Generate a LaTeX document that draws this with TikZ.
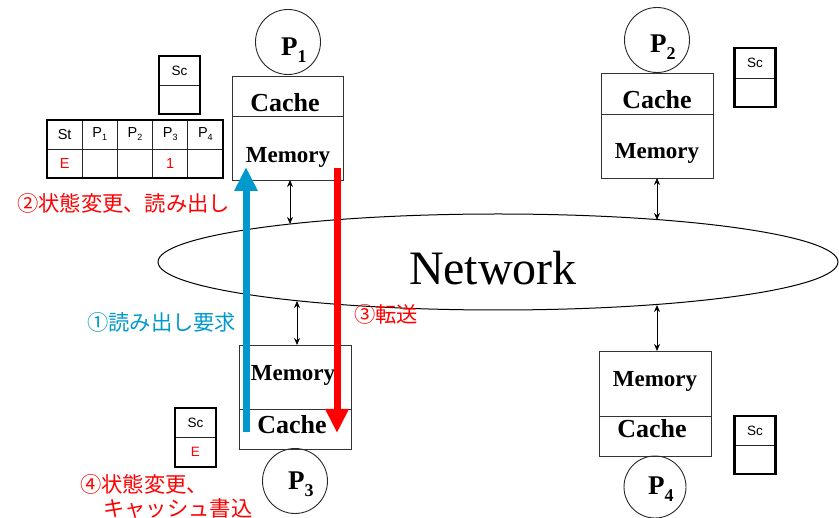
\documentclass[tikz,border=0pt]{standalone}
\usepackage{fontspec}
\setmainfont{Liberation Serif}
\newfontfamily\sansf{Liberation Sans}
\newfontfamily\jpf{Noto Sans CJK JP}
\usetikzlibrary{arrows.meta,shapes.geometric,calc}
\definecolor{stepred}{RGB}{255,0,0}
\definecolor{stepblue}{RGB}{0,153,204}
\newcommand\plabel[1]{\bfseries\fontsize{27}{27}\selectfont P\raisebox{-7pt}{\fontsize{18}{18}\selectfont #1}}
\newcommand\tplabel[1]{P\raisebox{-3pt}{\fontsize{9}{9}\selectfont #1}}
\begin{document}
\begin{tikzpicture}[x=1pt,y=-1pt,
  unitbox/.style={draw=black!80,line width=0.9pt,rectangle,inner sep=0pt,outer sep=0pt},
  proc/.style={draw=black!85,line width=0.9pt,circle,minimum size=65pt,inner sep=0pt},
  cachetxt/.style={anchor=base,inner sep=0pt,font=\bfseries\fontsize{26}{26}\selectfont},
  memtxt/.style={anchor=base,inner sep=0pt,font=\bfseries\fontsize{23}{23}\selectfont},
  sccell/.style={rectangle,inner sep=0pt,outer sep=0pt,minimum width=41pt,font=\sansf\fontsize{13.5}{13.5}\selectfont},
  scframe/.style={draw=black,line width=2.6pt},
  cell/.style={draw=black!85,line width=0.8pt,rectangle,inner sep=0pt,outer sep=0pt,
    minimum width=35.2pt,minimum height=29pt,font=\sansf\fontsize{14.5}{14.5}\selectfont},
  link/.style={draw=black,line width=0.8pt,{Stealth[length=7pt,width=6pt]}-{Stealth[length=7pt,width=6pt]}},
  note/.style={anchor=west,inner sep=0pt,font=\jpf\fontsize{21.3}{21.3}\selectfont},
  bigarrow/.style={line width=7pt,-{Triangle[width=22pt,length=24pt]}}
]
\useasboundingbox (0,0) rectangle (839,518);

% network ring
\node[draw=black,line width=1pt,ellipse,minimum width=680pt,minimum height=96pt,inner sep=0pt] (net) at (498,262) {};
\node[anchor=base,inner sep=0pt,font=\fontsize{48}{48}\selectfont] (nettxt) at (493,285) {Network};

% processor 1 (cache above memory)
\node[unitbox,minimum width=111pt,minimum height=40pt] (c1) at (287.5,96) {};
\node[unitbox,minimum width=111pt,minimum height=64pt] (m1) at (287.5,148) {};
\node[cachetxt] (c1t) at (285,112) {Cache};
\node[memtxt] (m1t) at (288,163) {Memory};
\node[proc] (p1) at (288,42) {};
\node[anchor=base west,inner sep=0pt] (p1t) at (281,56) {\plabel{1}};

% processor 2
\node[unitbox,minimum width=112pt,minimum height=41pt] (c2) at (657,93.5) {};
\node[unitbox,minimum width=112pt,minimum height=64pt] (m2) at (657,146) {};
\node[cachetxt] (c2t) at (657,109) {Cache};
\node[memtxt] (m2t) at (657,159) {Memory};
\node[proc] (p2) at (657,40) {};
\node[anchor=base west,inner sep=0pt] (p2t) at (650,53) {\plabel{2}};

% processor 3 (memory above cache)
\node[unitbox,minimum width=112pt,minimum height=64pt] (m3) at (295,377) {};
\node[unitbox,minimum width=112pt,minimum height=40pt] (c3) at (295,429) {};
\node[memtxt] (m3t) at (293,381) {Memory};
\node[cachetxt] (c3t) at (292,434) {Cache};
\node[proc] (p3) at (295,481) {};
\node[anchor=base west,inner sep=0pt] (p3t) at (288,490) {\plabel{3}};

% processor 4
\node[unitbox,minimum width=112pt,minimum height=65pt] (m4) at (655,383.5) {};
\node[unitbox,minimum width=112pt,minimum height=40pt] (c4) at (655,436) {};
\node[memtxt] (m4t) at (655,387) {Memory};
\node[cachetxt] (c4t) at (652,438) {Cache};
\node[proc,minimum size=62pt] (p4) at (655,487) {};
\node[anchor=base west,inner sep=0pt] (p4t) at (648,495) {\plabel{4}};

% links to the network
\coordinate (n1) at (290,224);
\coordinate (n2) at (657,220);
\coordinate (n3) at (297,301);
\coordinate (n4) at (657,305);
\draw[link] (m1.south -| n1) -- (n1);
\draw[link] (m2.south -| n2) -- (n2);
\draw[link] (n3) -- (m3.north -| n3);
\draw[link] (n4) -- (m4.north -| n4);

% state registers
\node[sccell,minimum height=29pt] (sc1a) at (179.5,70.5) {Sc};
\node[sccell,minimum height=29pt] (sc1b) at (179.5,99.5) {};
\draw[black!85,line width=0.8pt] (sc1a.south west) -- (sc1a.south east);
\draw[scframe] (sc1a.north west) rectangle (sc1b.south east);

\node[sccell,minimum height=30pt] (sc2a) at (755,63) {Sc};
\node[sccell,minimum height=29pt] (sc2b) at (755,92.5) {};
\draw[black!85,line width=0.8pt] (sc2a.south west) -- (sc2a.south east);
\draw[scframe] (sc2a.north west) rectangle (sc2b.south east);

\node[sccell,minimum height=29pt] (sc3a) at (195.5,422.5) {Sc};
\node[sccell,minimum height=30pt,text=stepred] (sc3b) at (195.5,452) {E};
\draw[black!85,line width=0.8pt] (sc3a.south west) -- (sc3a.south east);
\draw[scframe] (sc3a.north west) rectangle (sc3b.south east);

\node[sccell,minimum height=29pt] (sc4a) at (755,430.5) {Sc};
\node[sccell,minimum height=29pt] (sc4b) at (755,459.5) {};
\draw[black!85,line width=0.8pt] (sc4a.south west) -- (sc4a.south east);
\draw[scframe] (sc4a.north west) rectangle (sc4b.south east);

% directory table
\node[cell] (h0) at (64.6,134.5) {St};
\node[cell] (h1) at (99.8,134.5) {\tplabel{1}};
\node[cell] (h2) at (135,134.5) {\tplabel{2}};
\node[cell] (h3) at (170.2,134.5) {\tplabel{3}};
\node[cell] (h4) at (205.4,134.5) {\tplabel{4}};
\node[cell,text=stepred] (r0) at (64.6,163.5) {E};
\node[cell] (r1) at (99.8,163.5) {};
\node[cell] (r2) at (135,163.5) {};
\node[cell,text=stepred] (r3) at (170.2,163.5) {1};
\node[cell] (r4) at (205.4,163.5) {};
\draw[black,line width=2.6pt] (h0.north west) rectangle (r4.south east);

% request (P3 -> P1) and transfer (P1 -> P3)
\coordinate (bstart) at (246,432);
\coordinate (bend) at (246,167);
\coordinate (rstart) at (337,168);
\coordinate (rend) at (337,433);
\draw[bigarrow,stepblue] (bstart) -- (bend);
\draw[bigarrow,stepred] (rstart) -- (rend);

% step notes
\node[note,text=stepred] (s2) at (17,203) {②状態変更、読み出し};
\node[note,text=stepblue] (s1) at (87,322) {①読み出し要求};
\node[note,text=stepred] (s3) at (354,314) {③転送};
\node[note,text=stepred] (s4a) at (80,484) {④状態変更、};
\node[note,text=stepred] (s4b) at (103,508) {キャッシュ書込};
\end{tikzpicture}
\end{document}
